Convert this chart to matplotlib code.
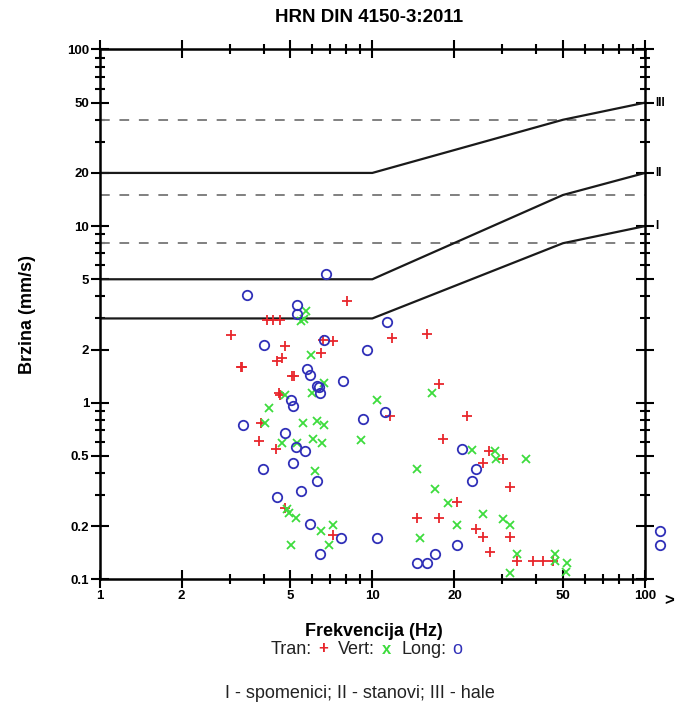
import matplotlib
matplotlib.use("Agg")
import matplotlib.pyplot as plt
from matplotlib.ticker import FixedLocator, FixedFormatter, NullFormatter

plt.rcParams['font.family'] = ['Liberation Sans', 'DejaVu Sans']

# limit curves (DIN 4150-3)
lim_f = [1, 10, 50, 100]
lim_I = [3, 3, 8, 10]
lim_II = [5, 5, 15, 20]
lim_III = [20, 20, 40, 50]
dash_levels = [8, 15, 40]

# measurements
tran_f = [8.06, 4.12, 4.33, 4.59, 3.03, 4.80, 6.6, 7.16, 11.8, 6.50, 4.48, 4.67, 3.31, 3.33,
          5.08, 5.15, 4.54, 4.6, 3.92, 3.83, 4.43, 4.80, 7.16, 11.6, 15.9, 17.5, 22.2, 18.2,
          26.7, 30.1, 25.5, 32.0, 20.4, 14.6, 17.5, 24.1, 25.5, 32.0, 26.9, 34.0, 38.9, 42.2, 46.1]
tran_v = [3.75, 2.94, 2.94, 2.94, 2.43, 2.09, 2.26, 2.24, 2.32, 1.92, 1.73, 1.79, 1.59, 1.60,
          1.42, 1.42, 1.13, 1.11, 0.764, 0.604, 0.545, 0.253, 0.178, 0.84, 2.44, 1.28, 0.84, 0.626,
          0.53, 0.478, 0.454, 0.332, 0.274, 0.222, 0.222, 0.193, 0.174, 0.174, 0.143, 0.127, 0.127, 0.127, 0.127]

vert_f = [5.71, 5.62, 5.5, 5.94, 6.65, 6.01, 4.77, 10.4, 4.17, 4.03, 5.56, 6.25, 6.65, 9.11,
          4.67, 5.31, 6.04, 6.54, 6.15, 4.85, 4.96, 5.25, 6.50, 7.19, 5.05, 6.96, 16.5, 23.2,
          28.1, 28.4, 36.6, 14.6, 17.0, 19.0, 20.4, 25.5, 30.2, 32.0, 15.0, 34.0, 32.0, 46.6,
          46.9, 51.6, 51.3]
vert_v = [3.32, 2.97, 2.9, 1.87, 1.30, 1.14, 1.11, 1.03, 0.933, 0.77, 0.77, 0.785, 0.75, 0.615,
          0.594, 0.594, 0.621, 0.594, 0.412, 0.249, 0.238, 0.222, 0.188, 0.204, 0.157, 0.157, 1.13, 0.54,
          0.535, 0.482, 0.482, 0.423, 0.326, 0.269, 0.204, 0.234, 0.22, 0.204, 0.171, 0.140, 0.109, 0.140,
          0.127, 0.123, 0.11]

long_f = [6.77, 3.48, 5.28, 5.31, 11.3, 6.65, 4.01, 9.59, 5.75, 5.91, 7.79, 6.29, 6.35, 6.43,
          5.05, 5.11, 11.1, 9.22, 3.37, 4.80, 5.25, 5.68, 5.13, 3.96, 6.25, 5.46, 4.46, 5.91,
          7.70, 10.4, 6.43, 21.3, 24.1, 23.2, 20.4, 17.0, 14.6, 15.9, 113, 113]
long_v = [5.35, 4.06, 3.56, 3.18, 2.86, 2.26, 2.11, 1.99, 1.56, 1.43, 1.33, 1.25, 1.23, 1.13,
          1.04, 0.958, 0.886, 0.812, 0.75, 0.676, 0.563, 0.535, 0.457, 0.423, 0.362, 0.318, 0.294, 0.206,
          0.171, 0.171, 0.140, 0.545, 0.423, 0.362, 0.157, 0.140, 0.124, 0.124, 0.188, 0.156]

x_major = [1, 2, 5, 10, 20, 50, 100]
y_major = [0.1, 0.2, 0.5, 1, 2, 5, 10, 20, 50, 100]
y_labels = ['0.1', '0.2', '0.5', '1', '2', '5', '10', '20', '50', '100']

red = '#e8262c'
green = '#3ddc3d'
blue = '#3030b8'

fig = plt.figure(figsize=(6.83, 7.04), dpi=100)
ax = fig.add_axes([0.1458, 0.1771, 0.7986, 0.7526])
ax.set_xscale('log')
ax.set_yscale('log')
ax.set_xlim(1, 100)
ax.set_ylim(0.1, 100)

for lv in dash_levels:
    ax.plot([1, 100], [lv, lv], color='#808080', lw=1.4, ls=(0, (5, 5)))
for ys, name in [(lim_I, 'I'), (lim_II, 'II'), (lim_III, 'III')]:
    ax.plot(lim_f, ys, color='#1a1a1a', lw=1.6)
    ax.annotate(name, (100, ys[-1]), xytext=(7.5, 0), textcoords='offset points',
                va='center', ha='left', fontsize=8.5, fontweight='bold', annotation_clip=False)

ax.plot(tran_f, tran_v, ls='none', marker='+', ms=7, mew=1.3, color=red, clip_on=False)
ax.plot(vert_f, vert_v, ls='none', marker='x', ms=6, mew=1.3, color=green, clip_on=False)
ax.plot(long_f, long_v, ls='none', marker='o', ms=6.8, mew=1.3, mfc='none', mec=blue, clip_on=False)

for s in ax.spines.values():
    s.set_linewidth(1.8)
ax.xaxis.set_major_locator(FixedLocator(x_major))
ax.xaxis.set_major_formatter(FixedFormatter([str(v) for v in x_major]))
ax.xaxis.set_minor_formatter(NullFormatter())
ax.yaxis.set_major_locator(FixedLocator(y_major))
ax.yaxis.set_major_formatter(FixedFormatter(y_labels))
ax.yaxis.set_minor_formatter(NullFormatter())
ax.tick_params(which='both', direction='inout', top=True, right=True, width=1.5)
ax.tick_params(which='major', length=13, labelsize=9.5, pad=1)
ax.tick_params(which='minor', length=7)
for lbl in ax.get_xticklabels() + ax.get_yticklabels():
    lbl.set_fontweight('bold')

ax.text(1.035, -0.025, '>', transform=ax.transAxes, fontsize=12, fontweight='bold', va='top')

fig.text(369 / 683, 1 - 18 / 704, 'HRN DIN 4150-3:2011', ha='center', va='center', fontsize=13.5, fontweight='bold')
fig.text(28 / 683, 1 - 314 / 704, 'Brzina (mm/s)', rotation=90, ha='center', va='center', fontsize=13, fontweight='bold')
fig.text(374 / 683, 1 - 632 / 704, 'Frekvencija (Hz)', ha='center', va='center', fontsize=13, fontweight='bold')

ly = 1 - 649 / 704
fig.text(271 / 683, ly, 'Tran:', ha='left', va='center', fontsize=13, color='#222222')
fig.text(323 / 683, ly, '+', ha='center', va='center', fontsize=12, color=red, fontweight='bold')
fig.text(338 / 683, ly, 'Vert:', ha='left', va='center', fontsize=13, color='#222222')
fig.text(387 / 683, ly, 'x', ha='center', va='center', fontsize=12, color=green, fontweight='bold')
fig.text(401 / 683, ly, 'Long:', ha='left', va='center', fontsize=13, color='#222222')
fig.text(457 / 683, ly, 'o', ha='center', va='center', fontsize=13, color=blue)

fig.text(360 / 683, 1 - 693 / 704, 'I - spomenici; II - stanovi; III - hale', ha='center', va='center',
         fontsize=13, color='#222222')

fig.savefig('out.png', dpi=100)
